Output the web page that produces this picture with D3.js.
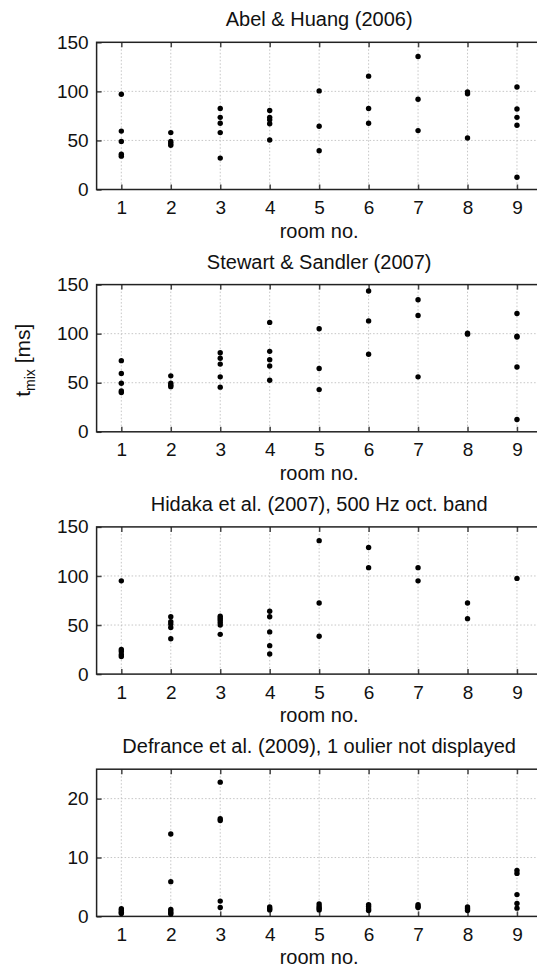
<!DOCTYPE html>
<html>
<head>
<meta charset="utf-8">
<script src="https://cdn.jsdelivr.net/npm/d3@7/dist/d3.min.js"></script>
<style>
  html, body { margin: 0; padding: 0; background: #fff; }
  svg { display: block; }
  text { font-family: "Liberation Sans", Arial, Helvetica, sans-serif; fill: #111; }
</style>
</head>
<body>
<svg id="chart" width="537" height="971"></svg>
<script>
// Room numbers shared by every panel
const rooms = [1, 2, 3, 4, 5, 6, 7, 8, 9];

// Panel titles
const titles = [
  "Abel & Huang (2006)",
  "Stewart & Sandler (2007)",
  "Hidaka et al. (2007), 500 Hz oct. band",
  "Defrance et al. (2009), 1 oulier not displayed"
];

// Mixing time estimates [ms] per room, one array per room
const abelHuang = [
  [97, 59.5, 49, 36, 34],
  [58, 49, 47, 45],
  [82.5, 73.5, 67.5, 58, 32],
  [80.5, 73.5, 71, 67, 50.5],
  [100.5, 64.5, 39.5],
  [115.5, 82.5, 67.5],
  [135.5, 92, 60],
  [99.5, 97.5, 52.5],
  [104.5, 82, 73.5, 65.5, 12.5]
];

const stewartSandler = [
  [72.5, 59.5, 49.5, 41.5, 40],
  [57, 49.5, 47.5, 46],
  [80.5, 75, 69, 56, 45.5],
  [111.5, 82, 73.5, 67, 52.5],
  [105, 64.5, 43],
  [143.5, 113, 79],
  [134.5, 118.5, 56],
  [100.5, 99.5],
  [120.5, 97.5, 96.5, 66, 12.5]
];

const hidaka = [
  [95, 25, 23, 20, 18],
  [58.5, 53.5, 51, 47.5, 36],
  [59, 57, 55, 52.5, 50, 40.5],
  [64, 58.5, 43, 29, 20.5],
  [136, 72.5, 38.5],
  [129, 108.5],
  [108.5, 95],
  [72.5, 56.5],
  [97.5]
];

const defrance = [
  [1.3, 1.0, 0.7, 0.5],
  [14, 5.9, 1.2, 0.9, 0.6, 0.4],
  [22.8, 16.6, 16.3, 2.6, 1.5],
  [1.6, 1.3, 1.1],
  [2.1, 1.7, 1.4, 1.1],
  [2.0, 1.7, 1.3, 1.0],
  [2.0, 1.7, 1.5],
  [1.6, 1.3, 1.0],
  [7.8, 7.3, 3.7, 2.2, 1.4]
];

// Y-axis extents and tick values per panel
const yMax = [150, 150, 150, 25];
const yTicks = [[0, 50, 100, 150], [0, 50, 100, 150], [0, 50, 100, 150], [0, 10, 20]];
const panelData = [abelHuang, stewartSandler, hidaka, defrance];

const svg = d3.select("#chart");
const left = 96.6, right = 541.7;
const panelTop0 = 42.3, panelStep = 242.3, panelH = 147.2;

const x = d3.scaleLinear().domain([0.5, 9.5]).range([left, right]);

panelData.forEach((data, i) => {
  const top = panelTop0 + i * panelStep;
  const bottom = top + panelH;
  const y = d3.scaleLinear().domain([0, yMax[i]]).range([bottom, top]);
  const g = svg.append("g");

  // dotted grid
  g.append("g").selectAll("line.vg").data(rooms).join("line")
    .attr("x1", d => x(d)).attr("x2", d => x(d))
    .attr("y1", top).attr("y2", bottom)
    .attr("stroke", "#b8b8b8").attr("stroke-width", 0.8).attr("stroke-dasharray", "1.5,2");
  g.append("g").selectAll("line.hg").data(yTicks[i].filter(v => v > 0 && v < yMax[i])).join("line")
    .attr("x1", left).attr("x2", right)
    .attr("y1", d => y(d)).attr("y2", d => y(d))
    .attr("stroke", "#b8b8b8").attr("stroke-width", 0.8).attr("stroke-dasharray", "1.5,2");

  // bottom axis with inward ticks
  const xAxis = d3.axisBottom(x).tickValues(rooms).tickSizeInner(-5).tickSizeOuter(0).tickPadding(11);
  const xa = g.append("g").attr("transform", `translate(0,${bottom})`).call(xAxis);
  xa.select(".domain").remove();
  xa.selectAll(".tick line").attr("stroke", "#444").attr("stroke-width", 1.5);
  xa.selectAll(".tick text").attr("font-size", 19).attr("fill", "#111")
    .attr("font-family", "Liberation Sans, Arial, sans-serif");

  // top ticks
  const xTop = d3.axisTop(x).tickValues(rooms).tickSizeInner(-5).tickSizeOuter(0).tickFormat("");
  const xt = g.append("g").attr("transform", `translate(0,${top})`).call(xTop);
  xt.select(".domain").remove();
  xt.selectAll(".tick line").attr("stroke", "#444").attr("stroke-width", 1.5);

  // left axis
  const yAxis = d3.axisLeft(y).tickValues(yTicks[i]).tickSizeInner(-5).tickSizeOuter(0).tickPadding(8);
  const ya = g.append("g").attr("transform", `translate(${left},0)`).call(yAxis);
  ya.select(".domain").remove();
  ya.selectAll(".tick line").attr("stroke", "#444").attr("stroke-width", 1.5);
  ya.selectAll(".tick text").attr("font-size", 19).attr("fill", "#111")
    .attr("font-family", "Liberation Sans, Arial, sans-serif");

  // frame
  g.append("rect").attr("x", left).attr("y", top)
    .attr("width", right - left).attr("height", bottom - top)
    .attr("fill", "none").attr("stroke", "#222").attr("stroke-width", 1.5);

  // points
  const pts = data.flatMap((vals, r) => vals.map(v => ({ room: rooms[r], v })));
  g.append("g").selectAll("circle").data(pts).join("circle")
    .attr("cx", d => x(d.room)).attr("cy", d => y(d.v))
    .attr("r", 2.7).attr("fill", "#000");

  // title
  g.append("text").attr("x", (left + right) / 2).attr("y", top - 16)
    .attr("text-anchor", "middle").attr("font-size", 20).text(titles[i]);

  // x label
  g.append("text").attr("x", (left + right) / 2).attr("y", bottom + 48)
    .attr("text-anchor", "middle").attr("font-size", 20).text("room no.");
});

// y label on the second panel
const ylab = svg.append("text")
  .attr("transform", `translate(30,${panelTop0 + panelStep + panelH / 2 + 2}) rotate(-90)`)
  .attr("text-anchor", "middle").attr("font-size", 21);
ylab.append("tspan").text("t");
ylab.append("tspan").attr("font-size", 14).attr("dy", 5).text("mix");
ylab.append("tspan").attr("dy", -5).text(" [ms]");
</script>
</body>
</html>
